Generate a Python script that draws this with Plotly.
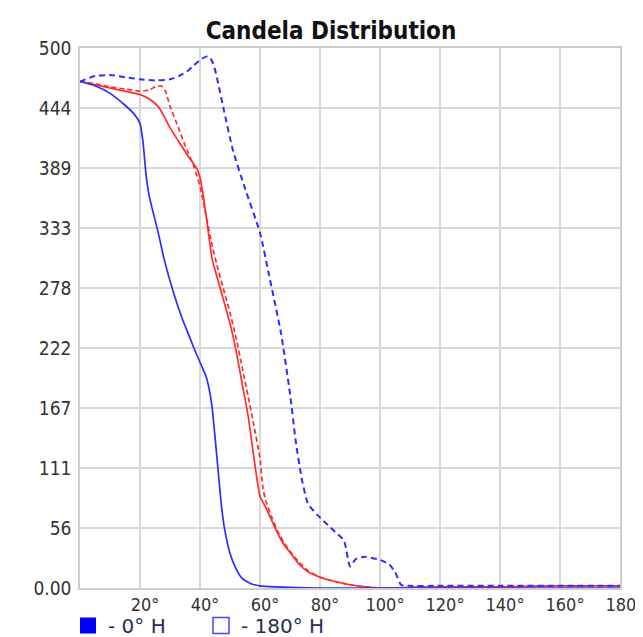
import plotly.graph_objects as go

# ---- data ----
blue_solid_ang = [0, 5, 10, 15, 18, 20, 21, 22, 23, 24, 26, 28, 31, 34, 36, 38, 40, 42, 43, 44, 45, 46, 47, 48, 50, 52, 54, 57, 60, 65, 70, 80, 90, 100, 120, 140, 160, 180]
blue_solid_val = [469, 465, 458, 447, 439, 430, 413, 383, 364, 352, 330, 305, 275, 250, 236, 222, 209, 196, 185, 168, 140, 110, 80, 58, 32, 18, 9, 4, 2, 1, 0.5, 0, 0, 0, 0, 0, 0, 0]

blue_dash_ang = [0, 5, 10, 15, 20, 25, 30, 33, 36, 38, 40, 42, 43, 44, 45, 46, 48, 51, 55, 60, 63, 67, 70, 72, 74, 76, 79, 82, 85, 88, 90, 92, 95, 100, 103, 105, 107, 110, 120, 140, 160, 180]
blue_dash_val = [469, 474, 475, 473, 471, 470, 471, 474, 479, 484, 489, 492, 492, 488, 480, 468, 442, 405, 370, 329, 290, 236, 180, 134, 100, 78, 68, 60, 52, 44, 20, 27, 29, 26, 22, 15, 3, 2, 2, 2, 2, 2]

red_solid_ang = [0, 5, 10, 15, 20, 23, 26, 28, 30, 33, 36, 39, 40, 41, 42, 43, 44, 46, 48, 50, 52, 54, 56, 58, 60, 62, 64, 66, 68, 70, 73, 76, 80, 85, 90, 95, 100, 120, 140, 160, 180]
red_solid_val = [469, 466, 463, 460, 457, 453, 446, 437, 426, 413, 400, 388, 380, 365, 345, 325, 305, 285, 265, 245, 220, 190, 160, 120, 85, 74, 62, 50, 40, 33, 22, 15, 10, 6, 3, 1, 0, 1, 1, 2, 2]

red_dash_ang = [0, 5, 10, 15, 20, 23, 25, 27, 28.5, 30, 32, 35, 38, 40, 42, 44, 46, 48, 50, 52, 54, 56, 58, 60, 61, 62, 64, 66, 68, 70, 73, 76, 80, 85, 90, 95, 100, 120, 140, 160, 180]
red_dash_val = [469, 467, 464, 462, 460, 461, 464, 465, 460, 446, 432, 410, 390, 372, 345, 318, 295, 275, 255, 232, 205, 178, 150, 120, 92, 80, 65, 52, 42, 34, 24, 16, 10, 6, 3, 1, 0, 1, 1, 2, 2]

x_tick_vals = [20, 40, 60, 80, 100, 120, 140, 160, 180]
x_tick_text = ["20°", "40°", "60°", "80°", "100°", "120°", "140°", "160°", "180°"]
y_tick_vals = [0, 500/9, 1000/9, 1500/9, 2000/9, 2500/9, 3000/9, 3500/9, 4000/9, 500]
y_tick_text = ["0.00", "56", "111", "167", "222", "278", "333", "389", "444", "500"]

legend_names = ["- 0° H", "- 180° H"]

BLUE = "rgb(45,45,255)"
RED = "rgb(255,45,45)"
FONT = "DejaVu Sans Condensed, Liberation Sans, sans-serif"

# page body has an 8px margin, so the figure is sized to fit the window
W, H = 635, 629

fig = go.Figure()
fig.add_trace(go.Scatter(x=red_solid_ang, y=red_solid_val, mode="lines", showlegend=False,
                         line=dict(color=RED, width=1.7, shape="spline", smoothing=0.5)))
fig.add_trace(go.Scatter(x=red_dash_ang, y=red_dash_val, mode="lines", showlegend=False,
                         line=dict(color=RED, width=1.7, dash="5px,3px", shape="spline", smoothing=0.5)))
fig.add_trace(go.Scatter(x=blue_solid_ang, y=blue_solid_val, mode="lines", showlegend=False,
                         line=dict(color=BLUE, width=1.7, shape="spline", smoothing=0.5)))
fig.add_trace(go.Scatter(x=blue_dash_ang, y=blue_dash_val, mode="lines", showlegend=False,
                         line=dict(color=BLUE, width=2, dash="6px,4px", shape="spline", smoothing=0.5)))

# legend entries
fig.add_trace(go.Scatter(x=[None], y=[None], mode="markers", name=legend_names[0],
                         marker=dict(symbol="square", size=19, color="rgb(0,0,255)")))
fig.add_trace(go.Scatter(x=[None], y=[None], mode="markers", name=legend_names[1],
                         marker=dict(symbol="square-open", size=16, color="rgb(70,70,255)",
                                     line=dict(width=1.5))))

fig.update_layout(
    width=W, height=H,
    margin=dict(l=72, r=23, t=40, b=49),
    paper_bgcolor="white", plot_bgcolor="white",
    title=dict(text="<b>Candela Distribution</b>", x=323/W, xref="container", xanchor="center",
               y=1 - 23/H, yref="container", yanchor="middle",
               font=dict(family=FONT, size=24, color="#111")),
    font=dict(family=FONT, size=19, color="#333"),
    xaxis=dict(range=[0, 180], tickvals=x_tick_vals, ticktext=x_tick_text,
               showgrid=True, gridcolor="#d9d9d9", gridwidth=1.5,
               showline=True, linecolor="#cccccc", linewidth=1.5, mirror=True,
               zeroline=False, ticks="", ticklabelstandoff=0, ticklabelshift=5,
               ticklabeloverflow="allow", automargin=False,
               tickfont=dict(family=FONT, size=18, color="#333")),
    yaxis=dict(range=[0, 500], tickvals=y_tick_vals, ticktext=y_tick_text,
               showgrid=True, gridcolor="#d9d9d9", gridwidth=1.5,
               showline=True, linecolor="#cccccc", linewidth=1.5, mirror=True,
               zeroline=False, ticks="", ticklabelstandoff=3, automargin=False,
               tickfont=dict(family=FONT, size=19, color="#333")),
    legend=dict(orientation="h", xref="container", x=60/W, xanchor="left",
                yref="container", y=11.5/H, yanchor="middle",
                font=dict(family="DejaVu Sans, sans-serif", size=20, color="#23304f"),
                bgcolor="rgba(0,0,0,0)",
                itemwidth=30, entrywidth=88, tracegroupgap=0),
)

fig.write_html("out.html")
